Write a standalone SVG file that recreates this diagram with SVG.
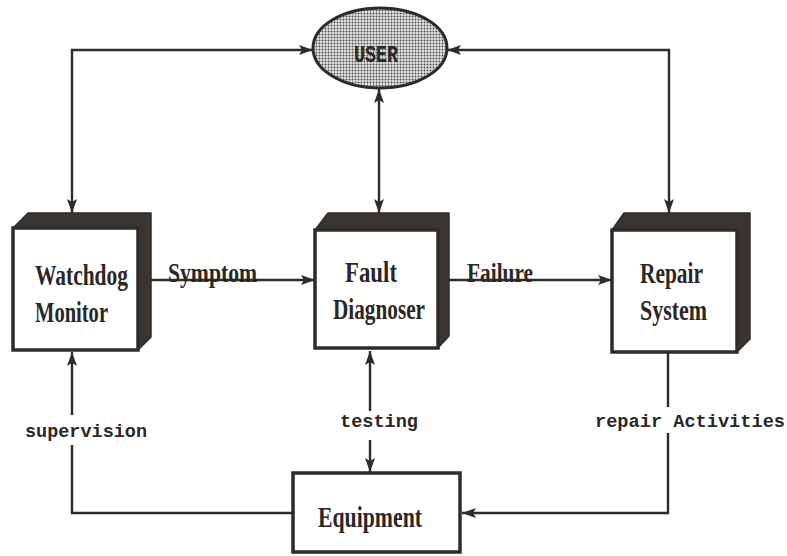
<svg xmlns="http://www.w3.org/2000/svg" width="787" height="556" viewBox="0 0 787 556">
  <defs>
    <pattern id="stipple" width="3" height="3" patternUnits="userSpaceOnUse">
      <rect width="3" height="3" fill="#e2e2e2"/>
      <circle cx="1.5" cy="1.5" r="0.95" fill="#4a4a4a"/>
    </pattern>
    <marker id="arrow" viewBox="0 0 14 10" refX="14" refY="5" markerWidth="14" markerHeight="10" markerUnits="userSpaceOnUse" orient="auto-start-reverse">
      <path d="M0,0 L14,5 L0,10 L3,5 Z" fill="#2e2b28"/>
    </marker>
    <style>
      .face { fill: #ffffff; stroke: #2e2b28; stroke-width: 3.5; }
      .depth { fill: #3a3531; stroke: #2e2b28; stroke-width: 1.5; stroke-linejoin: round; }
      .line { fill: none; stroke: #2e2b28; stroke-width: 2.4; }
      .title { font-family: "Liberation Serif", "Times New Roman", serif; font-weight: bold; font-size: 30px; fill: #2a2725; }
      .flow { font-family: "Liberation Serif", "Times New Roman", serif; font-weight: bold; font-size: 28px; fill: #2a2725; }
      .mono { font-family: "Liberation Mono", "Courier New", monospace; font-weight: bold; font-size: 18.5px; fill: #2a2725; }
      .user { font-size: 23px; }
    </style>
  </defs>

  <rect width="787" height="556" fill="#ffffff"/>

  <!-- connectors -->
  <g id="connectors">
    <path class="line" d="M72,213 L72,50 L313,50" marker-start="url(#arrow)" marker-end="url(#arrow)"/>
    <path class="line" d="M447,50 L669,50 L669,213" marker-start="url(#arrow)" marker-end="url(#arrow)"/>
    <path class="line" d="M379,89 L379,213" marker-start="url(#arrow)" marker-end="url(#arrow)"/>
    <path class="line" d="M151,280 L315,280" marker-end="url(#arrow)"/>
    <path class="line" d="M448,280 L612,280" marker-end="url(#arrow)"/>
    <path class="line" d="M293,513 L72,513 L72,445"/>
    <path class="line" d="M72,415 L72,352" marker-end="url(#arrow)"/>
    <path class="line" d="M370,411 L370,351" marker-end="url(#arrow)"/>
    <path class="line" d="M370,440 L370,472" marker-end="url(#arrow)"/>
    <path class="line" d="M668,352 L668,407"/>
    <path class="line" d="M668,433 L668,513 L462,513" marker-end="url(#arrow)"/>
    <text class="flow" x="168" y="282" textLength="89" lengthAdjust="spacingAndGlyphs">Symptom</text>
    <text class="flow" x="467" y="282" textLength="66" lengthAdjust="spacingAndGlyphs">Failure</text>
    <text class="mono" x="25" y="437" textLength="122" lengthAdjust="spacingAndGlyphs">supervision</text>
    <text class="mono" x="340" y="427" textLength="78" lengthAdjust="spacingAndGlyphs">testing</text>
    <text class="mono" x="595" y="427" textLength="190" lengthAdjust="spacingAndGlyphs">repair Activities</text>
  </g>

  <!-- user -->
  <g id="user">
    <ellipse cx="380" cy="48" rx="67" ry="40" fill="url(#stipple)" stroke="#2e2b28" stroke-width="3"/>
    <text class="mono user" x="376" y="62" text-anchor="middle" textLength="44" lengthAdjust="spacingAndGlyphs">USER</text>
  </g>

  <!-- watchdog monitor -->
  <g id="watchdog-monitor">
    <polygon class="depth" points="13,228 28,213 151,213 151,337 138,350 138,228"/>
    <rect class="face" x="13" y="228" width="125" height="122"/>
    <text class="title" x="35" y="285" textLength="93" lengthAdjust="spacingAndGlyphs">Watchdog</text>
    <text class="title" x="35" y="322" textLength="73" lengthAdjust="spacingAndGlyphs">Monitor</text>
  </g>

  <!-- fault diagnoser -->
  <g id="fault-diagnoser">
    <polygon class="depth" points="315,230 328,213 449,213 449,336 438,348 438,230"/>
    <rect class="face" x="315" y="230" width="123" height="118"/>
    <text class="title" x="345" y="282" textLength="52" lengthAdjust="spacingAndGlyphs">Fault</text>
    <text class="title" x="333" y="319" textLength="92" lengthAdjust="spacingAndGlyphs">Diagnoser</text>
  </g>

  <!-- repair system -->
  <g id="repair-system">
    <polygon class="depth" points="612,230 624,213 750,213 750,339 737,352 737,230"/>
    <rect class="face" x="612" y="230" width="125" height="122"/>
    <text class="title" x="640" y="283" textLength="63" lengthAdjust="spacingAndGlyphs">Repair</text>
    <text class="title" x="640" y="320" textLength="67" lengthAdjust="spacingAndGlyphs">System</text>
  </g>

  <!-- equipment -->
  <g id="equipment">
    <rect class="face" x="293" y="473" width="167" height="79"/>
    <text class="title" x="318" y="527" textLength="104" lengthAdjust="spacingAndGlyphs">Equipment</text>
  </g>
</svg>
